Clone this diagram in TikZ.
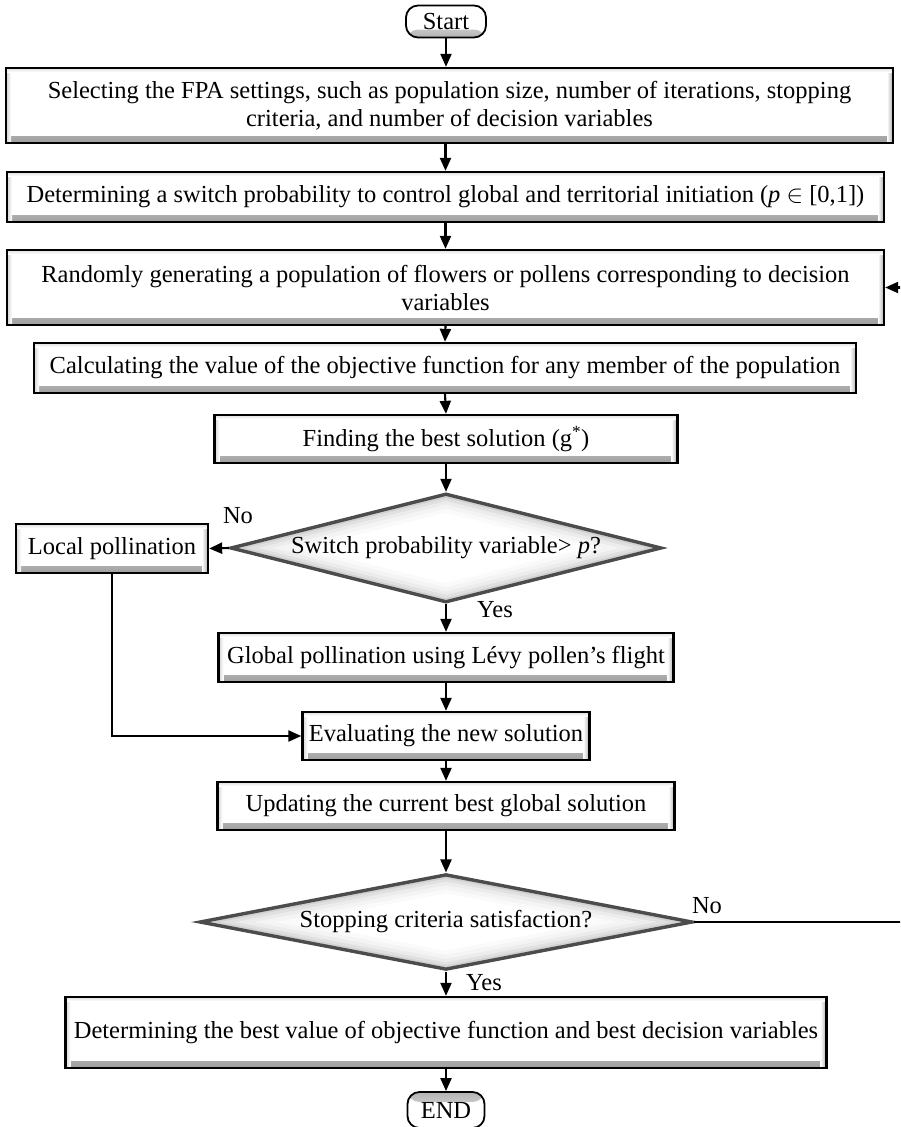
\documentclass[tikz,border=0pt]{standalone}
\usepackage{fontspec}
\setmainfont{Liberation Serif}
\usetikzlibrary{shapes.geometric,arrows.meta}

\begin{document}
\begin{tikzpicture}[x=1pt,y=-1pt,
  every node/.style={font=\fontsize{24.5}{28}\selectfont, inner sep=0pt},
  proc/.style={rectangle, draw=black, line width=2.3pt, fill=white, align=center,
    path picture={
      \shade[top color=white,bottom color=gray!75]
        ([yshift=7pt]path picture bounding box.south west) rectangle (path picture bounding box.south east);
      \shade[left color=white,right color=gray!65]
        ([xshift=-6pt]path picture bounding box.south east) rectangle (path picture bounding box.north east);
      \shade[left color=gray!35,right color=white]
        (path picture bounding box.south west) rectangle ([xshift=5pt]path picture bounding box.north west);
      \shade[top color=gray!25,bottom color=white]
        (path picture bounding box.north west) rectangle ([yshift=-4pt]path picture bounding box.north east);
    }},
  terminal/.style={rectangle, rounded corners=12pt, draw=black, line width=1.8pt, fill=white},
  lowglow/.style={path picture={
      \shade[top color=white,bottom color=gray!60]
        ([yshift=8pt]path picture bounding box.south west) rectangle (path picture bounding box.south east);}},
  topglow/.style={path picture={
      \shade[top color=gray!60,bottom color=white]
        (path picture bounding box.north west) rectangle ([yshift=-10pt]path picture bounding box.north east);}},
  rim/.style={line width=#1, line join=miter},
  decision/.style={diamond, shape aspect=4, draw=black!70, line width=3.4pt, fill=white, align=center,
    path picture={
      \foreach \w/\c in {36pt/4,28pt/9,20pt/15,13pt/24,7pt/36}{
        \draw[gray!\c, rim=\w] (path picture bounding box.north) -- (path picture bounding box.east)
          -- (path picture bounding box.south) -- (path picture bounding box.west) -- cycle;
      }
    }},
  arr/.style={draw=black, line width=2.1pt, -{Triangle[length=13pt,width=11pt]}},
  lbl/.style={font=\fontsize{24.5}{28}\selectfont}
]
\useasboundingbox (0,0) rectangle (900,1127);
\fill[white] (0,0) rectangle (900,1127);

% terminals and process steps
\node[terminal, lowglow, minimum width=80pt, minimum height=32pt] (start) at (446,21.5) {Start};
\node[proc, minimum width=887pt, minimum height=75pt] (s1) at (449.5,105.5)
  {Selecting the FPA settings, such as population size, number of iterations, stopping\\criteria, and number of decision variables};
\node[proc, minimum width=877pt, minimum height=50pt] (s2) at (445.5,197)
  {Determining a switch probability to control global and territorial initiation (\textit{p}~$\in$~[0,1])};
\node[proc, minimum width=877pt, minimum height=75pt] (s3) at (445.5,287.5)
  {Randomly generating a population of flowers or pollens corresponding to decision\\variables};
\node[proc, minimum width=822pt, minimum height=50pt] (s4) at (445,368)
  {Calculating the value of the objective function for any member of the population};
\node[proc, minimum width=463pt, minimum height=48pt] (s5) at (446,439)
  {Finding the best solution (g\textsuperscript{*})};
\node[decision, minimum width=431pt, minimum height=109pt] (d1) at (446,548)
  {Switch probability variable> \textit{p}?};
\node[proc, minimum width=192pt, minimum height=49pt] (loc) at (112,548.5) {Local pollination};
\node[proc, minimum width=455pt, minimum height=49pt] (glob) at (446,657.5)
  {Global pollination using Lévy pollen’s flight};
\node[proc, minimum width=287pt, minimum height=48pt] (eval) at (446,736)
  {Evaluating the new solution};
\node[proc, minimum width=457pt, minimum height=48pt] (upd) at (446,806)
  {Updating the current best global solution};
\node[decision, minimum width=493pt, minimum height=93pt] (d2) at (446,922)
  {Stopping criteria satisfaction?};
\node[proc, minimum width=761pt, minimum height=71pt] (fin) at (446,1032.5)
  {Determining the best value of objective function and best decision variables};
\node[terminal, topglow, minimum width=77pt, minimum height=36pt] (end) at (446,1110) {END};

% branch labels
\node[lbl] (no1) at (238,516) {No};
\node[lbl] (yes1) at (495,610) {Yes};
\node[lbl] (no2) at (707,906) {No};
\node[lbl] (yes2) at (484,983) {Yes};

% main flow
\draw[arr] (start.south) -- (start.south |- s1.north);
\draw[arr] (s2.north |- s1.south) -- (s2.north);
\draw[arr] (s2.south) -- (s3.north);
\draw[arr] (s3.south) -- (s4.north);
\draw[arr] (s4.south) -- (s5.north);
\draw[arr] (s5.south) -- (d1.north);
\draw[arr] (d1.west) -- (loc.east);
\draw[arr] (d1.south) -- (glob.north);
\draw[arr] (loc.south) |- (eval.west);
\draw[arr] (glob.south) -- (eval.north);
\draw[arr] (eval.south) -- (upd.north);
\draw[arr] (upd.south) -- (d2.north);
\draw[arr] (d2.south) -- (fin.north);
\draw[arr] (fin.south) -- (end.north);

% loop back to the population step (runs past the right edge)
\coordinate (ret) at (903,922);
\begin{scope}
  \clip (0,0) rectangle (900,1127);
  \draw[arr] (d2.east) -- (ret) |- (s3.east);
\end{scope}
\end{tikzpicture}
\end{document}
